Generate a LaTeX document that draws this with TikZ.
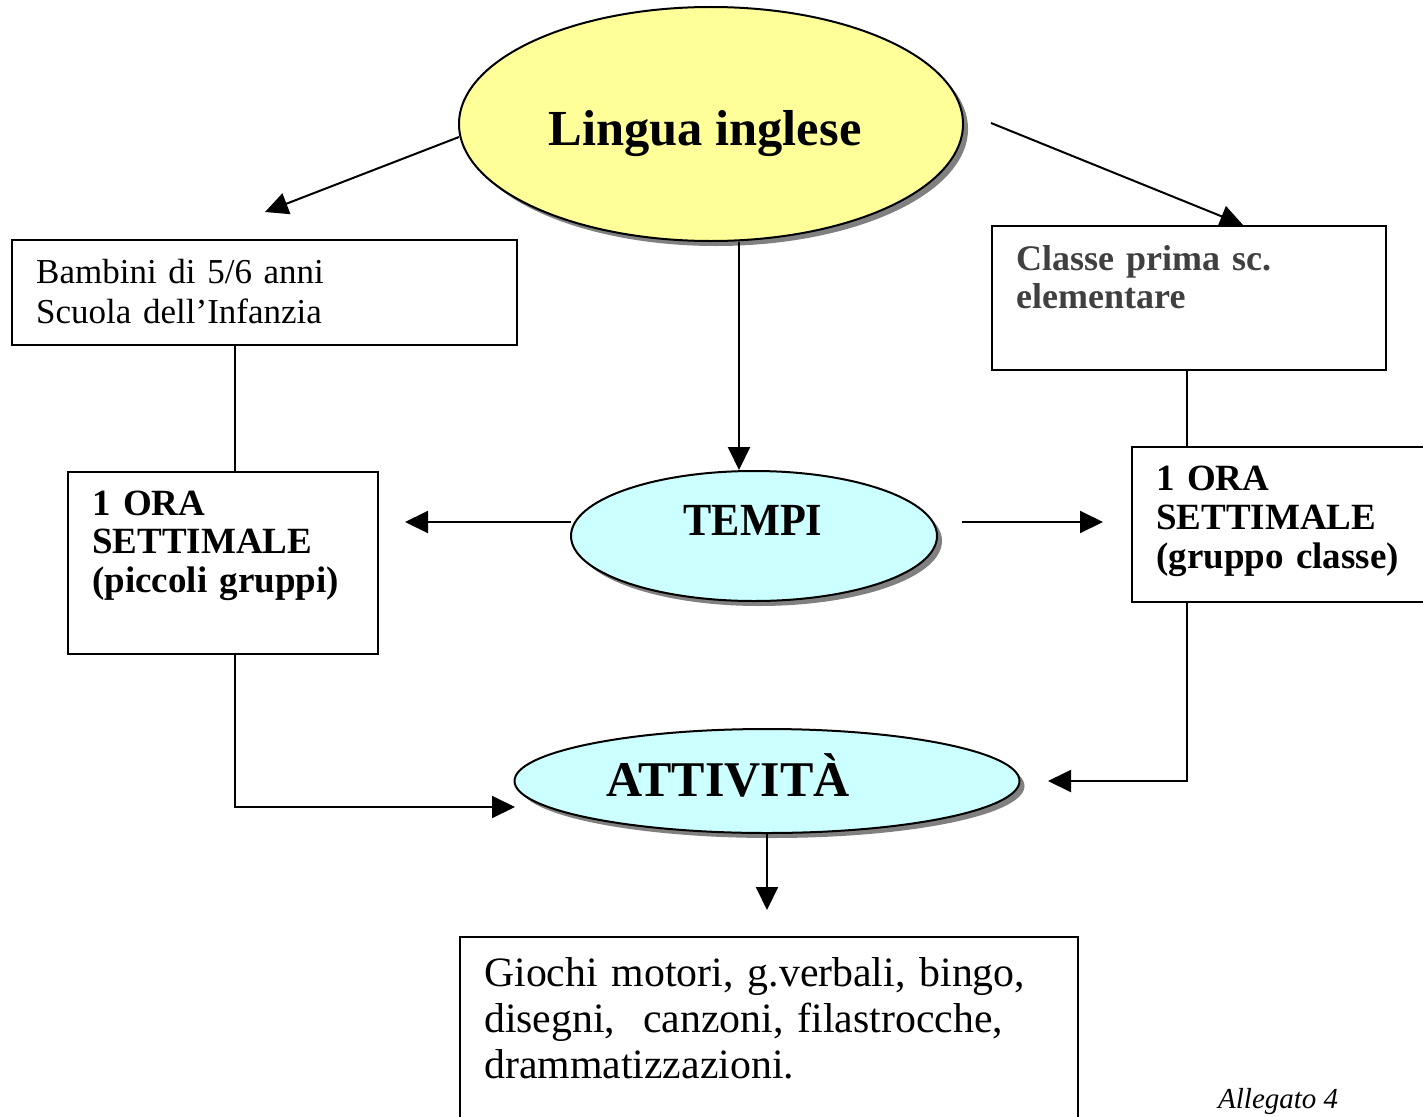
\documentclass[tikz,border=0pt]{standalone}
\usepackage{fontspec}
\setmainfont{Liberation Serif}
\usetikzlibrary{arrows.meta,shapes.geometric,shadows}
\definecolor{paleyellow}{HTML}{FFFF99}
\definecolor{palecyan}{HTML}{CCFFFF}
\definecolor{darktext}{HTML}{404040}
\definecolor{shadowgray}{HTML}{808080}

\begin{document}
\begin{tikzpicture}[x=1pt,y=-1pt,
  box/.style={draw,line width=2pt,rectangle,inner sep=0pt,anchor=north west},
  bubble/.style={draw,line width=2pt,ellipse,inner sep=0pt,
    drop shadow={shadow xshift=5pt,shadow yshift=-5pt,fill=shadowgray,opacity=1}},
  conn/.style={line width=2pt},
  arr/.style={conn,-{Triangle[length=23pt,width=22pt]}},
  txt/.style={anchor=base west,align=left,inner sep=0pt,text width=#1},
  txt/.default=400pt
]
\useasboundingbox (0,0) rectangle (1423,1116);
\clip (0,0) rectangle (1423,1116);
\fill[white] (0,0) rectangle (1423,1116);

% ellipses
\node[bubble,fill=paleyellow,minimum width=504pt,minimum height=234pt] (lingua) at (711,124) {};
\node[anchor=base,inner sep=0pt,font=\fontsize{50.5}{56}\selectfont\bfseries] (linguatxt) at (705,145) {Lingua inglese};

\node[bubble,fill=palecyan,minimum width=366pt,minimum height=130pt] (tempi) at (754,536) {};
\node[anchor=base,inner sep=0pt,font=\fontsize{46}{56}\selectfont\bfseries\addfontfeatures{FakeStretch=0.92}] (tempitxt) at (753,535) {TEMPI};

\node[bubble,fill=palecyan,minimum width=505pt,minimum height=104pt] (attivita) at (767,781) {};
\node[anchor=base,inner sep=0pt,font=\fontsize{50}{56}\selectfont\bfseries] (attivitatxt) at (728,796) {ATTIVITÀ};

% boxes
\node[box,minimum width=505pt,minimum height=105pt] (infanzia) at (11,239) {};
\node[txt,font=\fontsize{35}{40}\selectfont] (infanziatxt) at (36,283) {Bambini di 5/6 anni\\Scuola dell’Infanzia};

\node[box,minimum width=394pt,minimum height=144pt] (prima) at (991,225) {};
\node[txt,font=\fontsize{36}{38}\selectfont\bfseries,text=darktext] (primatxt) at (1016,270) {Classe prima sc.\\elementare};

\node[box,minimum width=310pt,minimum height=182pt] (orasx) at (67,471) {};
\node[txt,font=\fontsize{37}{38.5}\selectfont\bfseries] (orasxtxt) at (92,515) {1 ORA\\SETTIMALE\\(piccoli gruppi)};

\node[box,minimum width=310pt,minimum height=155pt] (oradx) at (1131,446) {};
\node[txt,font=\fontsize{37}{39}\selectfont\bfseries] (oradxtxt) at (1156,490) {1 ORA\\SETTIMALE\\(gruppo classe)};

\node[box,minimum width=618pt,minimum height=200pt] (giochi) at (459,936) {};
\node[txt=560pt,font=\fontsize{41.8}{46}\selectfont] (giochitxt) at (484,986) {Giochi motori, g.verbali, bingo,\\disegni,\ \ canzoni, filastrocche,\\drammatizzazioni.};

\node[anchor=base west,inner sep=0pt,font=\fontsize{29}{32}\selectfont\itshape] (allegato) at (1218,1108) {Allegato 4};

% free ends of the connectors
\coordinate (lsx) at (459,137);
\coordinate (lsxend) at (265,212);
\coordinate (ldx) at (991,123);
\coordinate (ldxend) at (1243,225);
\coordinate (tsx) at (571,522);
\coordinate (tsxend) at (405,522);
\coordinate (tdx) at (962,522);
\coordinate (tdxend) at (1103,522);
\coordinate (corsx) at (235,807);
\coordinate (attsx) at (515,807);
\coordinate (cordx) at (1187,781);
\coordinate (attdx) at (1048,781);
\coordinate (attend) at (767,910);

% connectors
\draw[arr] (lsx) -- (lsxend);
\draw[arr] (ldx) -- (ldxend);
\draw[arr] (lingua.south -| 739,0) -- (tempi.north -| 739,0);
\draw[arr] (tsx) -- (tsxend);
\draw[arr] (tdx) -- (tdxend);
\draw[conn] (infanzia.south -| 235,0) -- (orasx.north -| 235,0);
\draw[conn] (prima.south -| 1187,0) -- (oradx.north -| 1187,0);
\draw[arr] (orasx.south -| corsx) -- (corsx) -- (attsx);
\draw[arr] (oradx.south -| cordx) -- (cordx) -- (attdx);
\draw[arr] (attivita.south -| attend) -- (attend);
\end{tikzpicture}
\end{document}
